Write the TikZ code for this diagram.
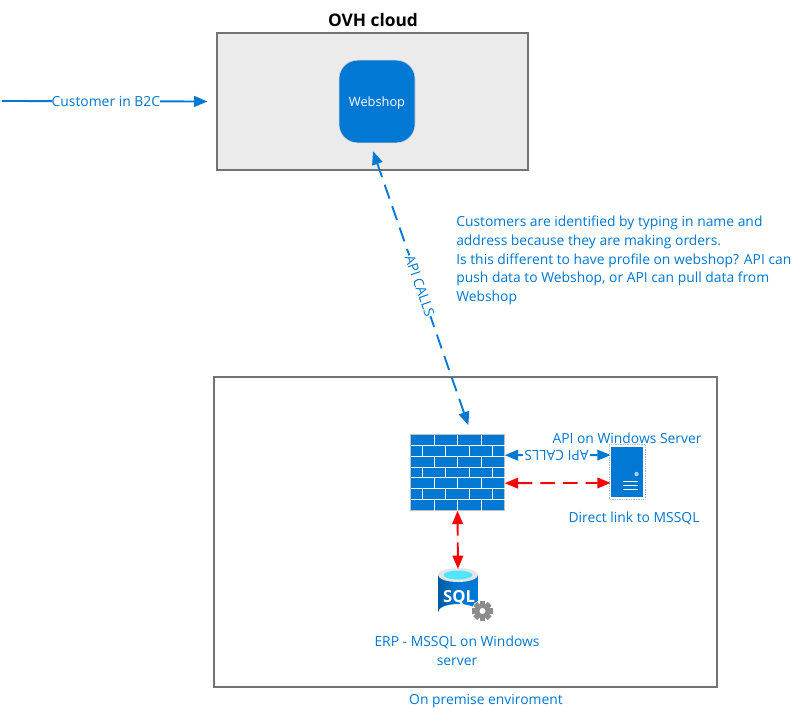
\documentclass[tikz,border=0pt]{standalone}
\usepackage{fontspec}
\setmainfont{Open Sans}
\usetikzlibrary{calc}
\usetikzlibrary{arrows.meta}
\definecolor{azure}{HTML}{0078D4}
\definecolor{azuredark}{HTML}{005BA1}
\definecolor{boxgrey}{HTML}{737373}
\definecolor{sqlcyan}{HTML}{50E6FF}
\tikzset{
	lbl/.style={text=azure, font=\fontsize{10.4pt}{14pt}\selectfont, inner sep=0pt},
	zone/.style={draw=boxgrey, line width=1.5pt},
	tip/.style={{Triangle[length=10pt,width=8pt]}-{Triangle[length=10pt,width=8pt]}},
	dashline/.style={dash pattern=on 11pt off 6pt},
}

\begin{document}
\begin{tikzpicture}[x=0.75pt, y=-0.75pt]
		\useasboundingbox (0,0) rectangle (807,719);

		% Zones
		\node[zone, fill=black!8, minimum width=233pt, minimum height=103pt, inner sep=0pt] (cloudbox) at (372.5,101.5) {};
		\node[zone, fill=white, minimum width=377pt, minimum height=232.5pt, inner sep=0pt] (premisebox) at (465.5,532) {};
		\node[font=\fontsize{13pt}{15pt}\selectfont\bfseries, inner sep=0pt] (cloudtitle) at (373,20) {OVH cloud};
		\node[lbl] (premisetitle) at (486,701) {On premise enviroment};

		% Webshop
		\node[draw=black!15, fill=azure, rounded corners=14pt, minimum width=57pt, minimum height=62pt, text=white, text depth=0pt, inner sep=0pt, font=\fontsize{9.6pt}{11pt}\selectfont] (webshop) at (377,101.5) {Webshop};

		% Firewall
		\node[draw=black!25, fill=azure, minimum width=70.5pt, minimum height=57pt, inner sep=0pt] (firewall) at (457.5,472.5) {};
		\foreach \r in {1,...,6}
			\draw[white, line width=0.7pt] (410.5,434.5+\r*10.86) -- (504.5,434.5+\r*10.86);
		\foreach \r in {0,2,4,6}
			\foreach \c in {1,2,3}
				\draw[white, line width=0.7pt] (410.5+\c*23.5,434.5+\r*10.86) -- (410.5+\c*23.5,434.5+\r*10.86+10.86);
		\foreach \r in {1,3,5}
			\foreach \c in {0,1,2,3}
				\draw[white, line width=0.7pt] (422.25+\c*23.5,434.5+\r*10.86) -- (422.25+\c*23.5,434.5+\r*10.86+10.86);

		% Server
		\node[draw=azure, fill=azure, minimum width=23pt, minimum height=37pt, inner sep=0pt, outer sep=0.8pt] (server) at (627,472) {};
		\draw[black!25, densely dotted, line width=0.3pt] (609,444.5) rectangle (645,499);
		\fill[black!25!azure!30!white] (636.5,474) circle (2.2);
		\foreach \y in {481,485,489}
			\draw[white, line width=0.6pt] (622.5,\y) -- (638,\y);

		% SQL database
		\node[minimum width=30pt, minimum height=38pt, inner sep=0pt] (sqldb) at (458,594.5) {};
		\path[left color=azuredark, right color=azure, middle color=azure] (438,575) -- (438,612) arc[start angle=180, end angle=360, x radius=20, y radius=8] -- (478,575) -- cycle;
		\fill[black!10] (458,575) ellipse (20 and 7);
		\fill[sqlcyan] (458,575) ellipse (14.5 and 4.5);
		\node[text=white, font=\fontsize{12.5pt}{14pt}\selectfont\bfseries, inner sep=0pt] (sqltext) at (459,598) {SQL};
		\fill[white] (482.5,611) circle (11);
		\foreach \a in {0,45,...,315}
			\fill[black!45, rotate around={\a:(482.5,611)}] (479.8,600.8) rectangle (485.2,606);
		\fill[black!45] (482.5,611) circle (7.2);
		\fill[white] (482.5,611) circle (3);

		% Labels
		\node[lbl, align=left, anchor=north west] (note) at (456,216) {Customers are identified by typing in name and\\address because they are making orders.\\Is this different to have profile on webshop? API can\\push data to Webshop, or API can pull data from\\Webshop};
		\node[lbl] (serverlabel) at (627,438) {API on Windows Server};
		\node[lbl] (linklabel) at (634,518) {Direct link to MSSQL};
		\node[lbl, align=center] (sqllabel) at (457,650.5) {ERP - MSSQL on Windows\\server};

		% Connections
		\coordinate (custstart) at (2,101);
		\draw[-{Triangle[length=10pt,width=8pt]}, azure, line width=1.4pt, shorten >=6.5pt] (custstart) -- node[lbl, fill=white, inner xsep=0pt, inner ysep=1pt, pos=0.485] {Customer in B2C} (cloudbox.west);
		\draw[tip, azure, line width=1.4pt, dashline, shorten <=6.4pt, shorten >=7.2pt] ([xshift=-5.1pt]webshop.south) -- node[lbl, fill=white, rotate=-70.9, inner ysep=1pt, pos=0.49] {API CALLS} ([xshift=10.5pt]firewall.north);
		\draw[tip, azure, line width=1.4pt] ([yshift=13pt]firewall.east) -- node[lbl, fill=white, rotate=180, inner xsep=1pt, inner ysep=1pt, pos=0.49] {API CALLS} ([yshift=12.7pt]server.west);
		\draw[tip, red, line width=1.4pt, dashline] ([yshift=-8pt]firewall.east) -- ([yshift=-8.2pt]server.west);
		\draw[tip, red, line width=1.4pt, dash pattern=on 9pt off 5pt on 20pt off 1pt] (firewall.south) -- (sqldb.north);

	\end{tikzpicture}
\end{document}
